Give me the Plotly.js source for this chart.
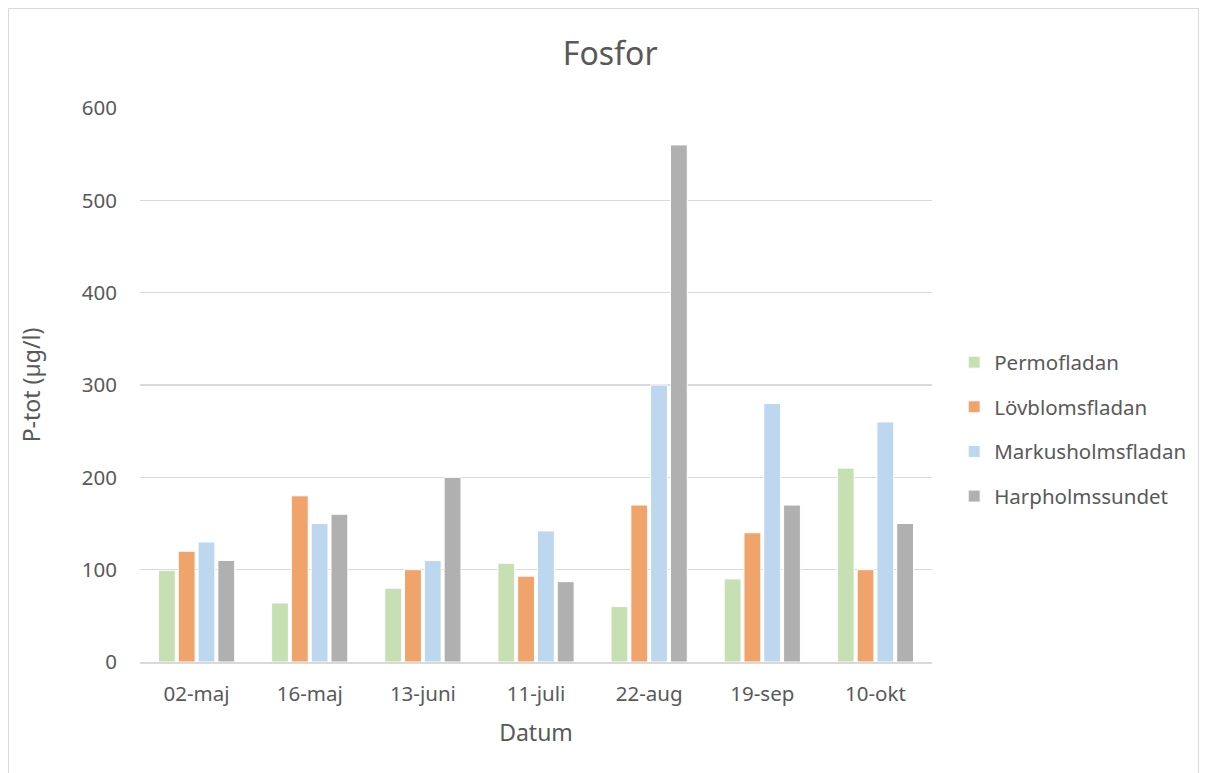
<!DOCTYPE html>
<html><head><meta charset="utf-8">
<script src="https://cdn.plot.ly/plotly-3.0.1.min.js"></script>
<style>
html,body{margin:0;padding:0;background:#fff;}
#frame{position:absolute;left:8px;top:8px;width:1191px;height:790px;border:1px solid #d9d9d9;box-sizing:border-box;}
#chart{position:absolute;left:0;top:0;width:1206px;height:773px;}
</style>
</head><body>
<div id="frame"></div>
<div id="chart"></div>
<script>
const categories = ["02-maj","16-maj","13-juni","11-juli","22-aug","19-sep","10-okt"];
const permofladan = [99,64,80,107,60,90,210];
const lovblomsfladan = [120,180,100,93,170,140,100];
const markusholmsfladan = [130,150,110,142,300,280,260];
const harpholmssundet = [110,160,200,87,560,170,150];
const seriesNames = ["Permofladan","Lövblomsfladan","Markusholmsfladan","Harpholmssundet"];
const colors = ["#c6e0b4","#f0a46b","#bdd7ee","#b0b0b0"];
const yTicks = [0,100,200,300,400,500,600];

const allSeries = [permofladan, lovblomsfladan, markusholmsfladan, harpholmssundet];
const traces = allSeries.map((vals,i)=>({
  type:"bar", x:categories, y:vals, name:seriesNames[i], legendgroup:"g"+i,
  marker:{color:colors[i], line:{color:"#ffffff", width:1}},
  hoverinfo:"x+y+name"
}));

const font = {family:"Noto Sans, Liberation Sans, sans-serif", color:"#595959"};
const layout = {
  width:1206, height:773,
  paper_bgcolor:"rgba(0,0,0,0)", plot_bgcolor:"rgba(0,0,0,0)",
  margin:{l:140, r:274, t:108, b:111},
  font:Object.assign({size:20}, font),
  title:{text:"Fosfor", font:Object.assign({size:32}, font), x:0.506, xref:"container", xanchor:"center", y:0.931, yanchor:"middle"},
  barmode:"group", bargap:0.3, bargroupgap:0.15,
  xaxis:{
    type:"category", showline:true, linecolor:"#d9d9d9", linewidth:1.5,
    ticks:"", tickfont:Object.assign({size:20.5}, font), ticklabelstandoff:13,
    title:{text:"Datum", font:Object.assign({size:23}, font), standoff:19},
    showgrid:false, fixedrange:true
  },
  yaxis:{
    range:[0,600], tickvals:yTicks, ticktext:yTicks.map(String),
    showgrid:true, gridcolor:"#d9d9d9", gridwidth:1.5,
    zeroline:false, showline:false, ticks:"",
    tickfont:Object.assign({size:20.5}, font), ticklabelstandoff:22,
    title:{text:"P-tot (µg/l)", font:Object.assign({size:23}, font), standoff:34},
    fixedrange:true
  },
  legend:{
    x:1.028, xanchor:"left", y:0.42, yanchor:"middle",
    font:Object.assign({size:20.5}, font), tracegroupgap:15,
    bgcolor:"rgba(0,0,0,0)"
  },
  showlegend:true
};
Plotly.newPlot("chart", traces, layout, {displayModeBar:false, staticPlot:true});
</script>
</body></html>
